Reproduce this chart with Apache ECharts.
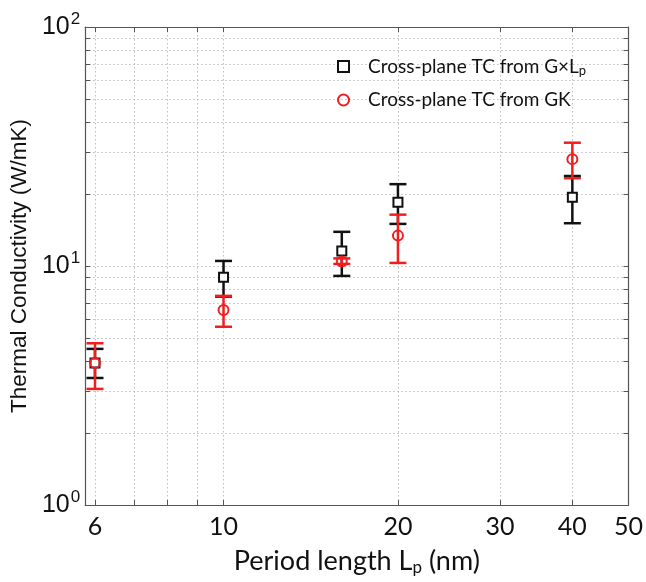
<!DOCTYPE html>
<html><head><meta charset="utf-8">
<script src="https://cdn.jsdelivr.net/npm/echarts@6/dist/echarts.min.js"></script>
<style>html,body{margin:0;padding:0;background:#fff}#c{width:646px;height:582px}</style>
</head><body><div id="c"></div>
<script>
const periodLength = [6, 10, 16, 20, 40];
const gxlpValue = [3.93, 8.97, 11.55, 18.5, 19.4];
const gxlpLow   = [3.40, 7.45, 9.09, 15.0, 15.1];
const gxlpHigh  = [4.50, 10.5, 13.9, 22.0, 23.8];
const gkValue = [3.93, 6.54, 10.45, 13.4, 28.0];
const gkLow   = [3.06, 5.57, 10.2, 10.3, 23.3];
const gkHigh  = [4.75, 7.50, 10.76, 16.4, 32.8];
const xTickLabels = [6, 10, 20, 30, 40, 50];
const xGridValues = [6, 7, 8, 9, 10, 20, 30, 40, 50];
const yTickLabels = [1, 10, 100];
const yGridValues = [1,2,3,4,5,6,7,8,9,10,20,30,40,50,60,70,80,90,100];

const chart = echarts.init(document.getElementById('c'));
const gridLine = {show: true, lineStyle: {color: '#bdbdbd', type: [1.5, 2.5], width: 1}};
const axisLineStyle = {show: true, lineStyle: {color: '#555', width: 1.2}};

function errSeries(name, lo, hi, color) {
  return {
    type: 'custom', name: name + ' err', silent: true,
    data: periodLength.map((x, i) => [x, lo[i], hi[i]]),
    encode: {x: 0, y: [1, 2]},
    renderItem: function (params, api) {
      const x = api.value(0);
      const p1 = api.coord([x, api.value(1)]);
      const p2 = api.coord([x, api.value(2)]);
      const w = 8.5;
      const st = {stroke: color, lineWidth: 2.5};
      return {type: 'group', children: [
        {type: 'line', shape: {x1: p1[0], y1: p1[1], x2: p2[0], y2: p2[1]}, style: st},
        {type: 'line', shape: {x1: p1[0]-w, y1: p1[1], x2: p1[0]+w, y2: p1[1]}, style: st},
        {type: 'line', shape: {x1: p2[0]-w, y1: p2[1], x2: p2[0]+w, y2: p2[1]}, style: st}
      ]};
    }
  };
}

const option = {
  animation: false,
  backgroundColor: '#fff',
  grid: {left: 83, right: 14, top: 27, bottom: 77},
  legend: {
    left: 337, top: 57, padding: 0, orient: 'vertical', itemGap: 13, itemWidth: 11, itemHeight: 11,
    data: ['gxlp', 'gk'],
    formatter: function (n) {
      return n === 'gxlp' ? 'Cross-plane TC from G×L{sub|p}' : 'Cross-plane TC from GK';
    },
    textStyle: {fontFamily: 'Lato', fontSize: 19, color: '#111', padding: [0, 0, 0, 14],
      rich: {sub: {fontFamily: 'Lato', fontSize: 13, color: '#111', padding: [9, 0, 0, 0]}}}
  },
  xAxis: [{
    type: 'log', logBase: 10, min: 5.77, max: 50, position: 'bottom',
    name: 'Period length L{sub|p} (nm)', nameLocation: 'middle', nameGap: 42,
    nameTextStyle: {fontFamily: 'Lato', fontSize: 27, color: '#111',
      rich: {sub: {fontFamily: 'Lato', fontSize: 17, color: '#111', padding: [12, 0, 0, 0]}}},
    axisLine: axisLineStyle,
    axisTick: {show: true, inside: true, length: 5, customValues: xGridValues, lineStyle: {color: '#555'}},
    axisLabel: {customValues: xTickLabels, fontFamily: 'Lato', fontSize: 25, color: '#111', margin: 9,
      formatter: v => String(Math.round(v))},
    splitLine: gridLine
  }, {
    type: 'log', logBase: 10, min: 5.77, max: 50, position: 'top',
    axisLine: axisLineStyle,
    axisTick: {show: true, inside: true, length: 5, customValues: xGridValues, lineStyle: {color: '#555'}},
    axisLabel: {show: false}, splitLine: {show: false}
  }],
  yAxis: [{
    type: 'log', logBase: 10, min: 1, max: 100, position: 'left',
    name: 'Thermal Conductivity (W/mK)', nameLocation: 'middle', nameGap: 47,
    nameTextStyle: {fontFamily: 'Liberation Sans', fontSize: 22.5, color: '#111'},
    axisLine: axisLineStyle,
    axisTick: {show: true, inside: true, length: 5, customValues: yGridValues, lineStyle: {color: '#555'}},
    axisLabel: {customValues: yTickLabels, fontFamily: 'Liberation Sans', fontSize: 25, color: '#111', margin: 5,
      formatter: v => '10{sup|' + Math.round(Math.log10(v)) + '}',
      rich: {sup: {fontFamily: 'Liberation Sans', fontSize: 17, color: '#111', padding: [0, 0, 16, 1]}}},
    splitLine: gridLine
  }, {
    type: 'log', logBase: 10, min: 1, max: 100, position: 'right',
    axisLine: axisLineStyle,
    axisTick: {show: true, inside: true, length: 5, customValues: yGridValues, lineStyle: {color: '#555'}},
    axisLabel: {show: false}, splitLine: {show: false}
  }],
  series: [
    errSeries('gxlp', gxlpLow, gxlpHigh, '#111'),
    {type: 'scatter', name: 'gxlp', symbol: 'rect', symbolSize: 9,
      itemStyle: {color: '#fff', borderColor: '#111', borderWidth: 2, opacity: 1},
      data: periodLength.map((x, i) => [x, gxlpValue[i]])},
    errSeries('gk', gkLow, gkHigh, '#f01e1e'),
    {type: 'scatter', name: 'gk', symbol: 'circle', symbolSize: 10,
      itemStyle: {color: 'rgba(255,255,255,0)', borderColor: '#f01e1e', borderWidth: 2, opacity: 1},
      data: periodLength.map((x, i) => [x, gkValue[i]])}
  ]
};
chart.setOption(option);
</script></body></html>
